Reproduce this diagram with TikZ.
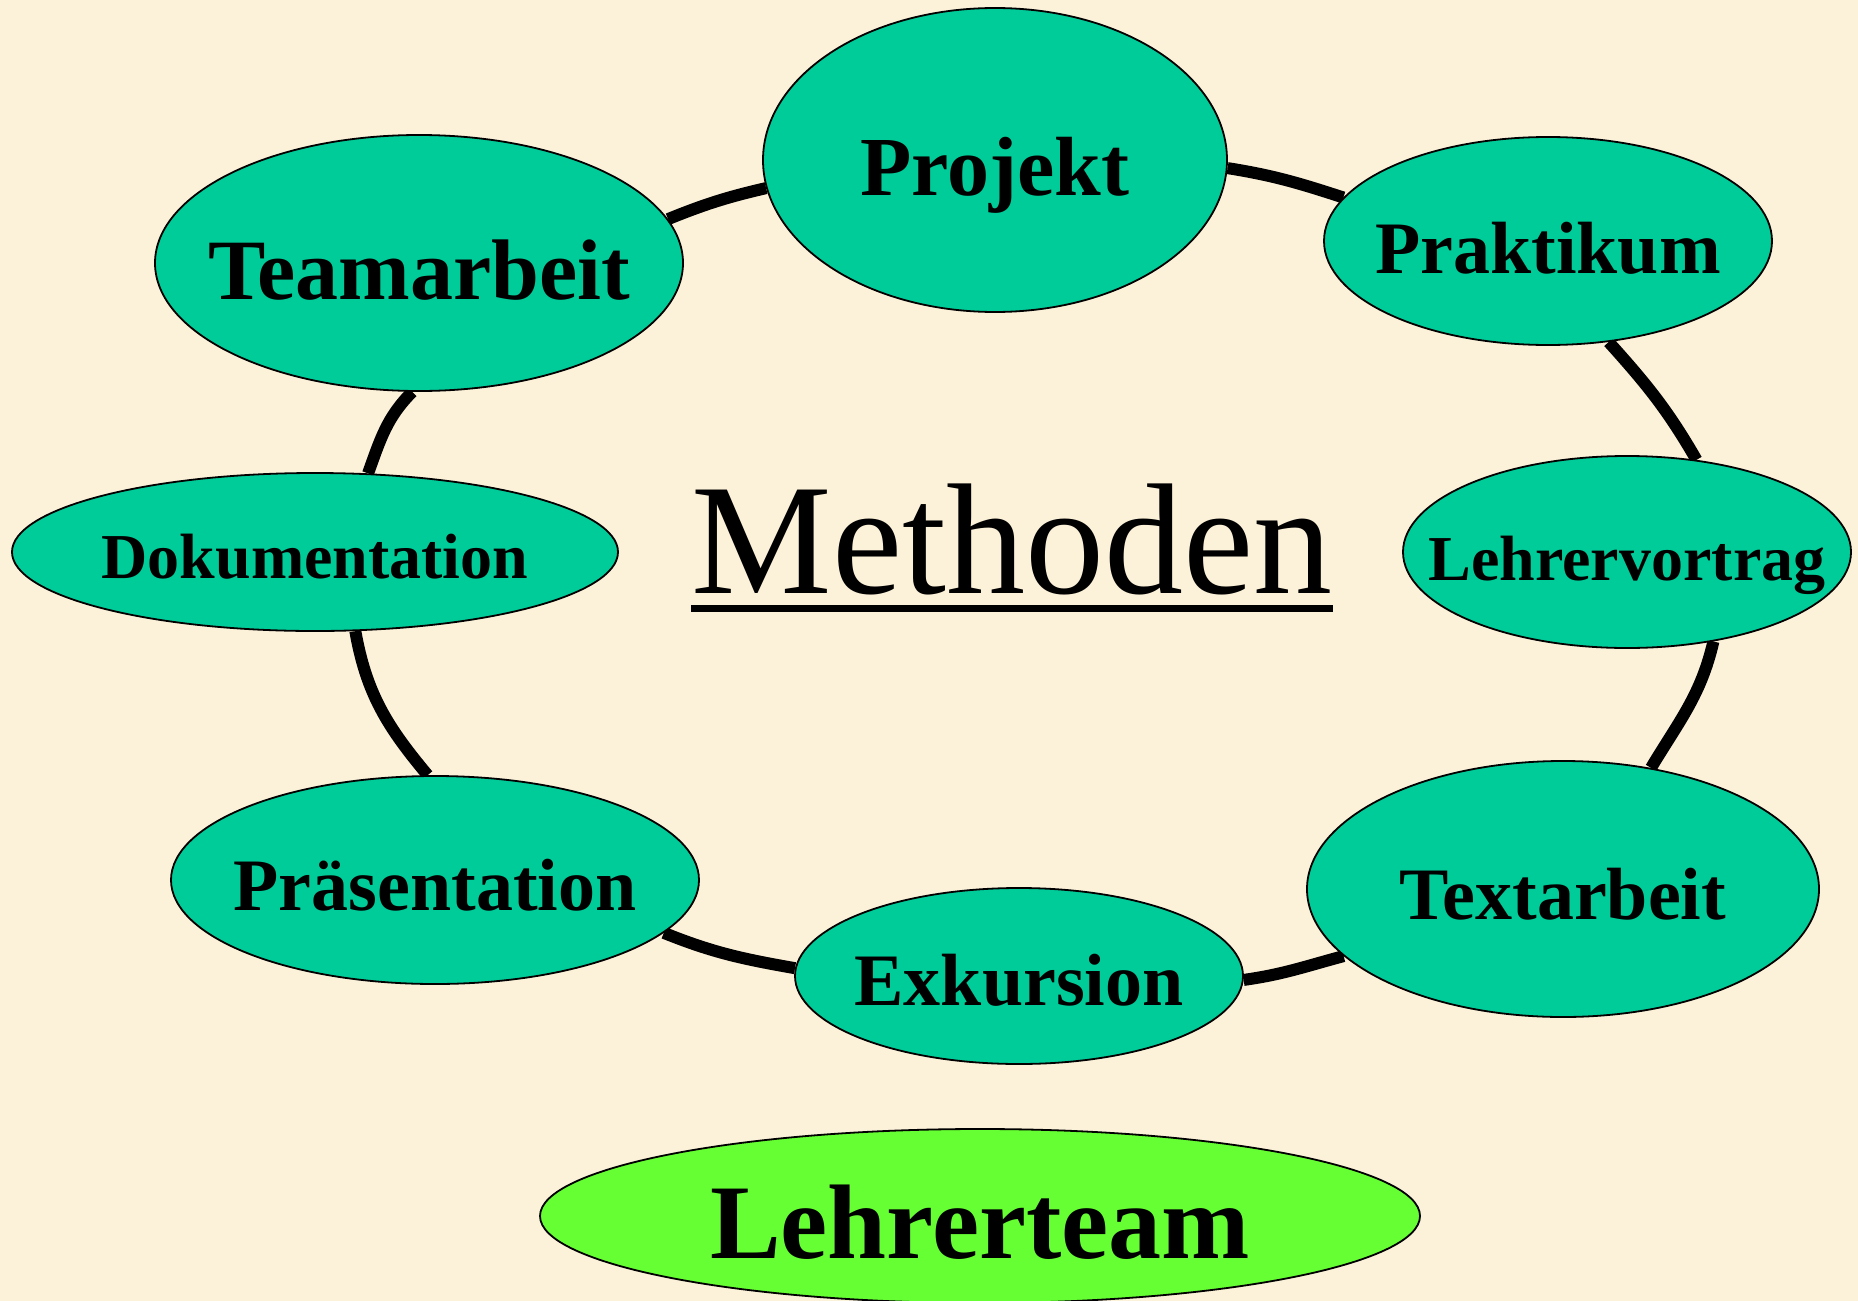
\documentclass[tikz,border=0pt]{standalone}
\usepackage{fontspec}
\setmainfont{Liberation Serif}
\usepackage{tikz}
\usetikzlibrary{shapes.geometric,backgrounds}

\definecolor{paper}{RGB}{252,241,217}
\definecolor{method}{RGB}{0,204,153}
\definecolor{team}{RGB}{102,255,51}
\newcommand{\fsz}[1]{\fontsize{#1}{#1}\selectfont}
\newcommand{\lbl}[1]{\makebox[0pt]{#1}}

\begin{document}
\begin{tikzpicture}[x=0.5pt, y=-0.5pt,
blob/.style={ellipse, draw=black, fill=method, line width=0.9pt, inner sep=0pt, text depth=0pt, font=\bfseries},
ring/.style={line width=6pt, black}
]
\useasboundingbox (0,0) rectangle (1858,1301);

\node[blob, minimum width=232pt, minimum height=152pt, text height=35pt](projekt) at (995,160){\fsz{42}\lbl{Projekt}};
\node[blob, minimum width=224pt, minimum height=104pt, text height=32pt](praktikum) at (1548,241){\fsz{37}\lbl{Praktikum}};
\node[blob, minimum width=224pt, minimum height=96pt, text height=28.4pt](lehrervortrag) at (1627,552){\fsz{32}\lbl{Lehrervortrag}};
\node[blob, minimum width=256pt, minimum height=128pt, text height=30.8pt](textarbeit) at (1563,889){\fsz{37}\lbl{Textarbeit}};
\node[blob, minimum width=224pt, minimum height=88pt, text height=29.6pt](exkursion) at (1019,976){\fsz{37}\lbl{Exkursion}};
\node[blob, minimum width=264pt, minimum height=104pt, text height=30.8pt](praesentation) at (435,880){\fsz{37}\lbl{Präsentation}};
\node[blob, minimum width=303pt, minimum height=79pt, text height=26pt](dokumentation) at (315,552){\fsz{32}\lbl{Dokumentation}};
\node[blob, minimum width=264pt, minimum height=128pt, text height=36.8pt](teamarbeit) at (419,263){\fsz{43}\lbl{Teamarbeit}};

\node[blob, fill=team, minimum width=440pt, minimum height=87pt, text height=42.6pt](lehrerteam) at (980,1216){\fsz{53}\lbl{Lehrerteam}};

\node[inner sep=0pt, font=\fsz{79}, anchor=base](methoden) at (1012,593){Methoden};
\draw[line width=3.5pt] ([yshift=-7.5pt]methoden.base west) -- ([yshift=-7.5pt]methoden.base east);

\begin{scope}[on background layer]
\fill[paper] (0,0) rectangle (1858,1301);
\draw[ring] (teamarbeit.10) to[out=22, in=193] (projekt.187);
\draw[ring] (projekt.-2) to[out=-9, in=162] (praktikum.168);
\draw[ring] (praktikum.-59) to[out=-48, in=120] (lehrervortrag.53);
\draw[ring] (lehrervortrag.-46) to[out=-103, in=59] (textarbeit.54);
\draw[ring] (textarbeit.197) to[out=195, in=8] (exkursion.-1);
\draw[ring] (exkursion.178) to[out=170, in=-22] (praesentation.-13);
\draw[ring] (praesentation.94) to[out=130, in=-80] (dokumentation.-63);
\draw[ring] (dokumentation.56) to[out=70, in=225] (teamarbeit.267);
\end{scope}

\end{tikzpicture}
\end{document}
